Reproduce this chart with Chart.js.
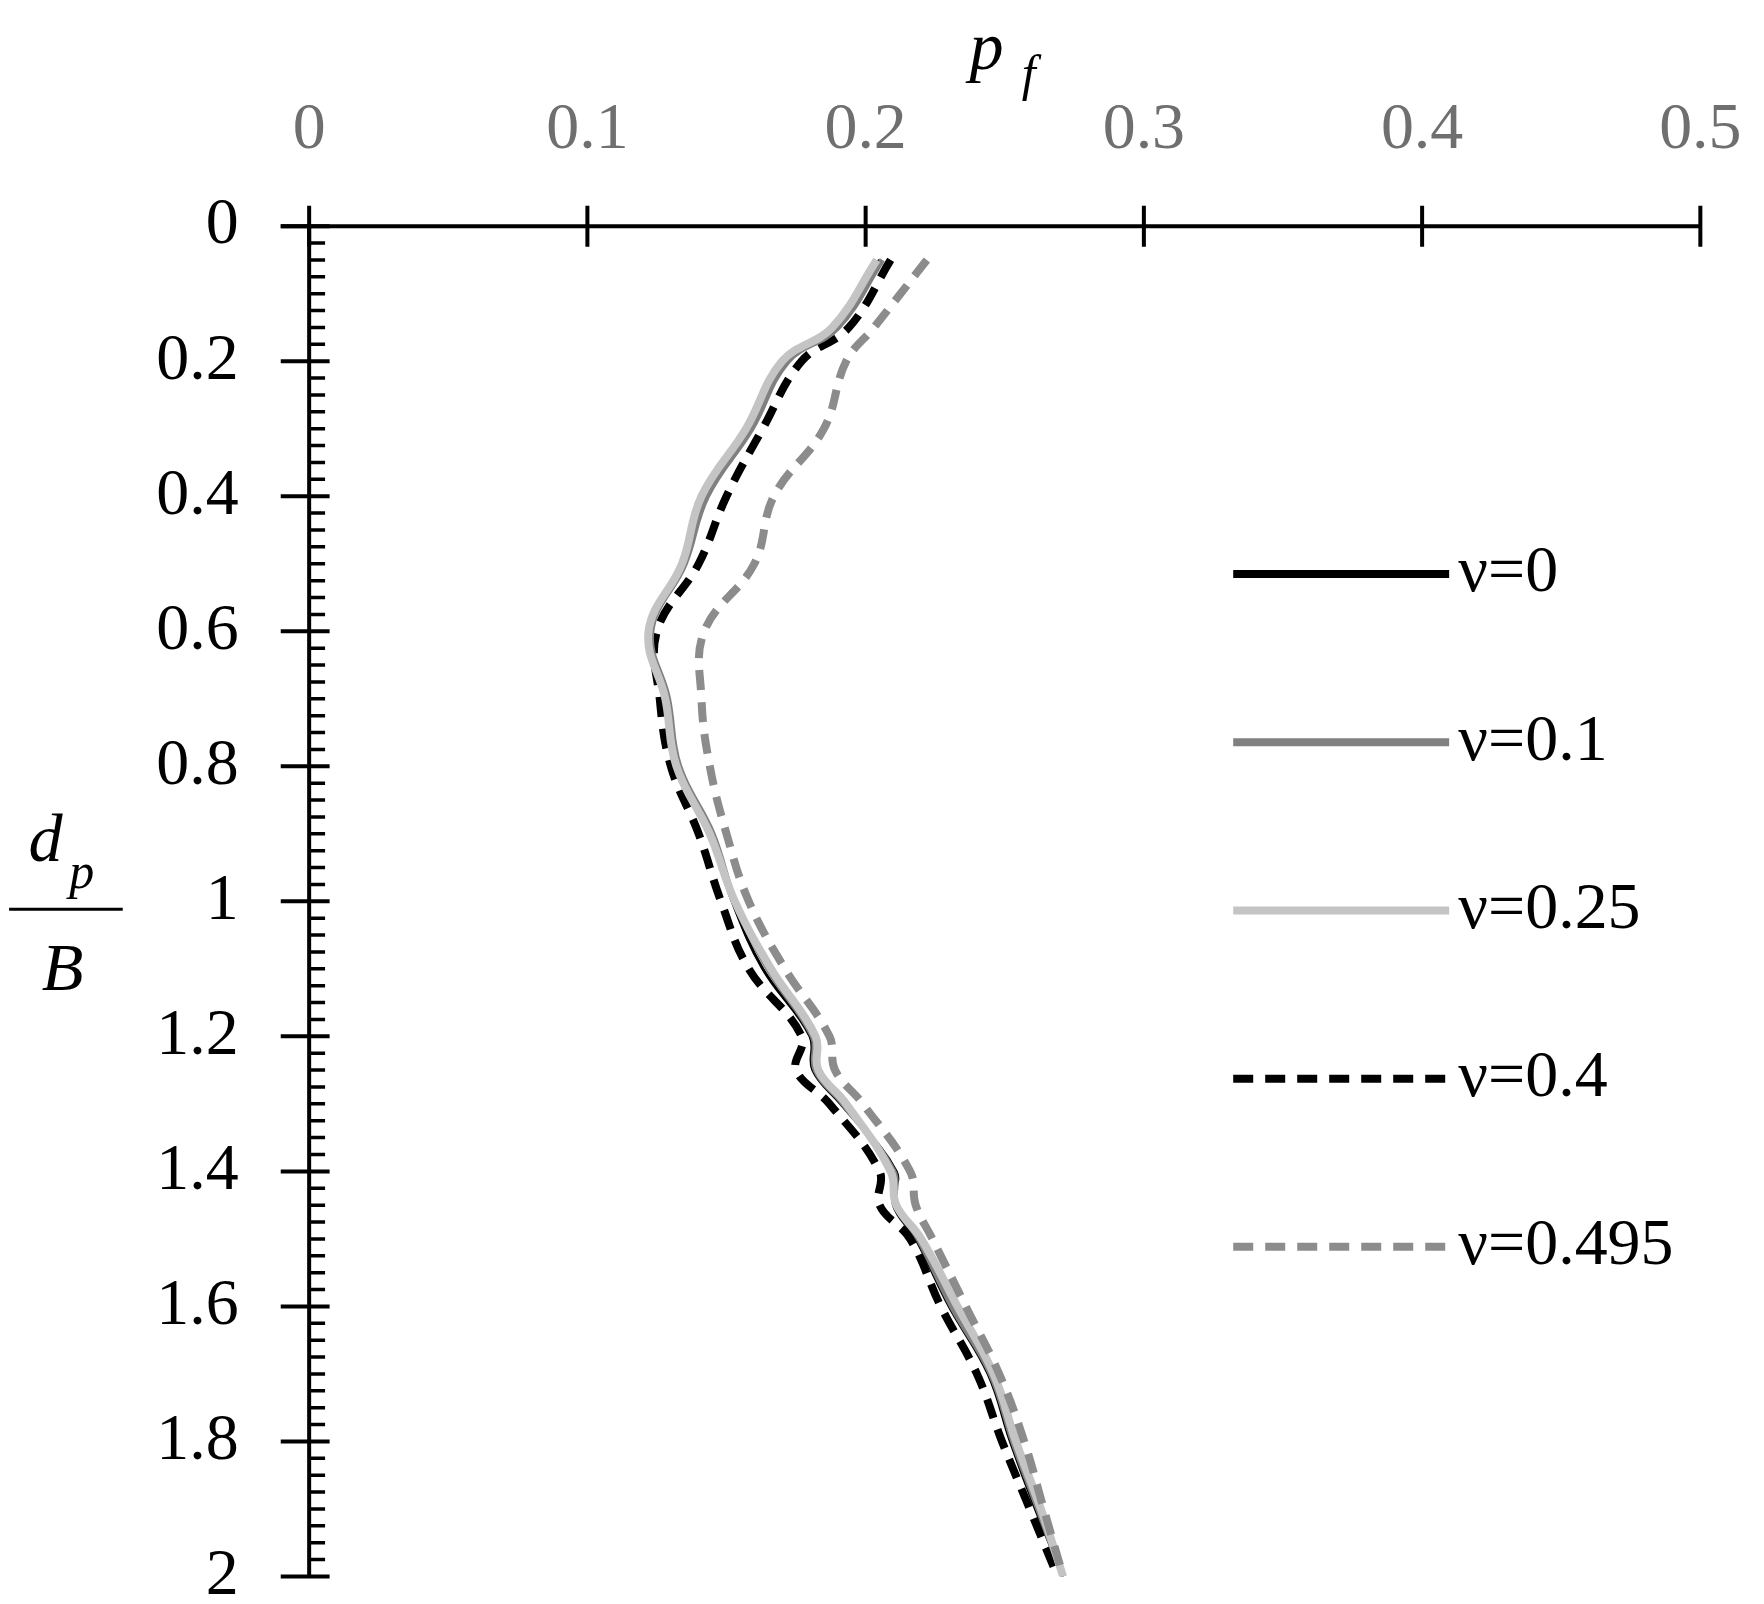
<!DOCTYPE html>
<html><head><meta charset="utf-8">
<script src="https://cdn.jsdelivr.net/npm/chart.js@4"></script>
<style>body{margin:0;background:#fff}#wrap{width:1764px;height:1604px}</style>
</head><body><div id="wrap"><canvas id="c"></canvas></div>
<script>
// depth ratio d_p/B (y) and p_f values (x) for each Poisson ratio
const depth = [0.05,0.15,0.2,0.3,0.4,0.5,0.6,0.7,0.8,0.9,1.0,1.1,1.2,1.25,1.3,1.4,1.45,1.5,1.6,1.7,1.8,1.9,2.0];
const pfNu0    = [0.205,0.189,0.171,0.158,0.142,0.134,0.123,0.128,0.132,0.144,0.152,0.163,0.180,0.181,0.191,0.211,0.210,0.218,0.230,0.244,0.252,0.261,0.271];
const pfNu01   = [0.206,0.190,0.172,0.159,0.143,0.135,0.123,0.129,0.133,0.145,0.153,0.165,0.181,0.182,0.192,0.210,0.211,0.219,0.231,0.245,0.253,0.262,0.271];
const pfNu025  = [0.204,0.188,0.170,0.157,0.141,0.134,0.122,0.128,0.132,0.144,0.153,0.166,0.182,0.183,0.193,0.209,0.211,0.220,0.233,0.246,0.254,0.263,0.271];
const pfNu04   = [0.209,0.194,0.177,0.163,0.150,0.140,0.125,0.126,0.130,0.140,0.148,0.158,0.177,0.175,0.187,0.205,0.205,0.216,0.227,0.240,0.249,0.259,0.269];
const pfNu0495 = [0.222,0.203,0.193,0.185,0.167,0.160,0.142,0.141,0.144,0.150,0.158,0.171,0.187,0.189,0.199,0.216,0.218,0.224,0.236,0.248,0.257,0.264,0.271];
const legendLabels = ['ν=0','ν=0.1','ν=0.25','ν=0.4','ν=0.495'];
const xTicks = [0,0.1,0.2,0.3,0.4,0.5];
const yTicks = [0,0.2,0.4,0.6,0.8,1,1.2,1.4,1.6,1.8,2];

const k = 1764/1552;
const W = 1764, H = 1604;
const FONT = '"Liberation Serif", "Times New Roman", serif';

function ds(label, vals, color, width, dash) {
  return {label, data: depth.map((d,i)=>({x: vals[i], y: d})), borderColor: color,
    borderWidth: width, borderDash: dash, showLine: true, pointRadius: 0, tension: 0.4, fill: false};
}
const datasets = [
  ds(legendLabels[4], pfNu0495, '#8c8c8c', 8, [20,12]),
  ds(legendLabels[2], pfNu025, '#c4c4c4', 8, []),
  ds(legendLabels[1], pfNu01, '#808080', 6, []),
  ds(legendLabels[3], pfNu04, '#000', 8, [20,12]),
  ds(legendLabels[0], pfNu0, '#000', 3, [])
];
const legendStyle = [
  {c:'#000',w:8,d:[]},{c:'#808080',w:8,d:[]},{c:'#c4c4c4',w:8,d:[]},{c:'#000',w:8,d:[20,12]},{c:'#8c8c8c',w:8,d:[20,12]}
];

const deco = {
  id: 'deco',
  afterDraw(chart) {
    const ctx = chart.ctx, xs = chart.scales.x, ys = chart.scales.y;
    const y0 = ys.getPixelForValue(0), x0 = xs.getPixelForValue(0);
    ctx.save();
    ctx.strokeStyle = '#000'; ctx.lineWidth = 4; ctx.setLineDash([]);
    ctx.beginPath();
    ctx.moveTo(x0 - 25*k, y0); ctx.lineTo(xs.getPixelForValue(0.5), y0);
    ctx.moveTo(x0, y0); ctx.lineTo(x0, ys.getPixelForValue(2));
    ctx.stroke();
    ctx.beginPath();
    xTicks.forEach(v => { const p = xs.getPixelForValue(v); ctx.moveTo(p, y0-18*k); ctx.lineTo(p, y0+18*k); });
    ctx.stroke();
    ctx.beginPath();
    yTicks.forEach(v => { const p = ys.getPixelForValue(v); ctx.moveTo(x0-25*k, p); ctx.lineTo(x0+18*k, p); });
    ctx.stroke();
    // y minor ticks every 0.025
    ctx.lineWidth = 3.5;
    ctx.beginPath();
    for (let i = 1; i < 80; i++) {
      if (i % 8 === 0) continue;
      const p = ys.getPixelForValue(i*0.025);
      ctx.moveTo(x0, p); ctx.lineTo(x0+14*k, p);
    }
    ctx.stroke();
    ctx.font = `${58*k}px ${FONT}`;
    ctx.textAlign = 'center'; ctx.textBaseline = 'middle';
    ctx.fillStyle = '#6f6f6f';
    xTicks.forEach(v => ctx.fillText(String(v), xs.getPixelForValue(v), 115*k));
    ctx.fillStyle = '#000';
    ctx.textAlign = 'right';
    yTicks.forEach(v => ctx.fillText(String(v), x0 - 62*k, ys.getPixelForValue(v)));
    // axis titles
    ctx.textAlign = 'center';
    ctx.font = `italic ${60*k}px ${FONT}`;
    ctx.fillText('p', 868*k, 45*k);
    ctx.font = `italic ${44*k}px ${FONT}`;
    ctx.fillText('f', 905*k, 68*k);
    ctx.font = `italic ${60*k}px ${FONT}`;
    ctx.fillText('d', 40*k, 742*k);
    ctx.font = `italic ${44*k}px ${FONT}`;
    ctx.fillText('p', 72*k, 770*k);
    ctx.font = `italic ${60*k}px ${FONT}`;
    ctx.fillText('B', 55*k, 855*k);
    ctx.lineWidth = 3;
    ctx.beginPath(); ctx.moveTo(8*k, 800*k); ctx.lineTo(108*k, 800*k); ctx.stroke();
    // legend
    ctx.font = `${58*k}px ${FONT}`;
    ctx.textAlign = 'left';
    legendStyle.forEach((s, i) => {
      const y = (505 + i*148)*k;
      ctx.strokeStyle = s.c; ctx.lineWidth = s.w; ctx.setLineDash(s.d);
      ctx.beginPath(); ctx.moveTo(1085*k, y); ctx.lineTo(1275*k, y); ctx.stroke();
      ctx.fillStyle = '#000';
      ctx.fillText(legendLabels[i], 1283*k, y);
    });
    ctx.restore();
  }
};

new Chart(document.getElementById('c'), {
  type: 'scatter',
  data: {datasets},
  options: {
    responsive: true, maintainAspectRatio: false, animation: false,
    layout: {padding: {left: 272*k, top: 199*k, right: W - 1496*k, bottom: H - 1387*k}},
    plugins: {legend: {display: false}, tooltip: {enabled: false}},
    scales: {
      x: {type: 'linear', position: 'top', min: 0, max: 0.5, display: false},
      y: {type: 'linear', reverse: true, min: 0, max: 2, display: false}
    }
  },
  plugins: [deco]
});
</script></body></html>
